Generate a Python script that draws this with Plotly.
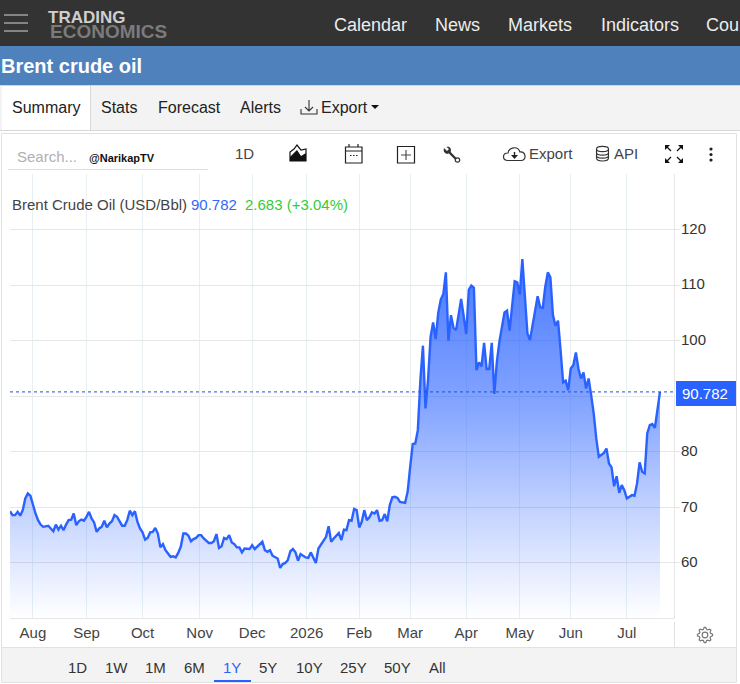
import math
import re

import plotly.graph_objects as go

# Session number and closing price of Brent crude over the past year
sessions = [
    0, 1, 2, 3, 4, 5, 6, 7, 8, 9, 10, 11, 12, 13, 15, 16, 17, 18, 19, 20,
    21, 22, 23, 24, 25, 26, 27, 28, 29, 30, 31, 32, 33, 34, 35, 36, 37, 38, 39, 40,
    41, 42, 43, 44, 45, 46, 47, 48, 49, 50, 51, 52, 53, 54, 55, 56, 57, 58, 59, 60,
    61, 62, 63, 64, 65, 66, 67, 68, 69, 70, 71, 72, 73, 74, 75, 76, 78, 79, 80, 81,
    82, 83, 84, 85, 86, 87, 88, 89, 90, 91, 92, 94, 95, 96, 97, 99, 100, 101, 102, 103,
    105, 106, 107, 108, 109, 110, 111, 112, 113, 114, 116, 117, 118, 120, 121, 123, 124, 125, 126, 127,
    129, 130, 131, 132, 133, 134, 135, 136, 137, 138, 139, 140, 141, 142, 143, 144, 145, 146, 147, 148,
    149, 150, 151, 152, 153, 155, 156, 157, 158, 159, 160, 161, 162, 163, 164, 165, 166, 167, 168, 169,
    170, 171, 172, 173, 174, 175, 177, 179, 180, 181, 182, 183, 184, 185, 186, 187, 188, 189, 190, 191,
    192, 194, 195, 196, 198, 199, 200, 201, 202, 203, 204, 205, 207, 208, 209, 210, 211, 212, 213, 214,
    215, 216, 217, 218, 219, 220, 221, 222, 223, 224, 225, 226, 227, 228, 229, 230, 231, 233, 234, 235,
    236, 237, 238, 239, 240, 241, 242, 244, 245, 246, 247, 248, 249, 250, 251, 252, 253, 255,
]
prices = [
    69.3, 68.6, 68.6, 69.2, 68.5, 69.5, 71.6, 72.5, 72.1, 70.3, 68.9, 67.7, 66.9, 66.5, 66.7, 66.2, 65.7, 66.9, 66.0, 66.7,
    65.9, 66.9, 67.7, 67.8, 68.9, 66.8, 67.5, 67.8, 67.6, 68.3, 69.2, 68.0, 67.3, 65.6, 66.2, 66.5, 67.6, 66.4, 67.1, 67.5,
    68.6, 68.3, 67.5, 66.7, 66.7, 67.7, 69.4, 68.6, 69.3, 67.4, 66.2, 65.5, 64.2, 64.5, 65.5, 65.6, 66.3, 65.3, 62.8, 63.4,
    62.3, 61.7, 61.1, 61.2, 61.0, 61.8, 62.9, 65.3, 65.3, 64.9, 63.9, 64.3, 64.5, 65.0, 65.0, 64.4, 63.6, 63.6, 63.9, 65.2,
    62.7, 63.0, 64.5, 64.3, 65.0, 63.7, 63.4, 62.8, 62.8, 61.9, 62.6, 62.5, 63.2, 62.5, 62.9, 63.8, 62.3, 62.0, 62.3, 61.3,
    60.8, 59.1, 59.8, 60.0, 60.5, 62.1, 62.5, 61.9, 60.4, 61.6, 61.0, 60.9, 61.9, 60.0, 62.6, 63.9, 64.7, 66.6, 63.8, 64.4,
    65.4, 64.1, 66.0, 65.9, 67.7, 67.6, 69.7, 69.5, 66.4, 67.4, 69.5, 67.7, 68.2, 69.1, 68.9, 69.5, 67.6, 67.7, 68.8, 67.5,
    70.4, 71.8, 71.9, 71.7, 71.0, 70.8, 72.8, 77.3, 81.4, 81.5, 83.9, 92.9, 99.1, 87.8, 92.9, 100.7, 103.3, 100.3, 105.0, 107.4,
    108.4, 112.3, 100.0, 104.6, 102.3, 101.9, 107.5, 101.2, 109.2, 109.9, 109.5, 94.7, 96.1, 95.4, 99.6, 94.9, 94.9, 99.6, 90.4, 96.2,
    99.8, 105.1, 105.4, 101.8, 110.7, 110.5, 108.3, 114.7, 108.6, 101.3, 100.1, 103.0, 108.0, 106.0, 105.9, 109.7, 112.3, 111.4, 104.6, 102.7,
    103.6, 98.3, 92.5, 92.8, 91.1, 95.0, 95.6, 97.9, 95.0, 93.2, 94.3, 91.4, 93.2, 90.2, 86.9, 82.4, 79.1, 79.8, 80.6, 77.9,
    77.2, 73.8, 75.6, 72.6, 74.0, 73.1, 71.6, 72.2, 72.1, 74.3, 78.1, 76.4, 76.1, 83.3, 84.8, 85.0, 84.3, 90.782,
]
month_labels = ["Aug", "Sep", "Oct", "Nov", "Dec", "2026", "Feb", "Mar", "Apr", "May", "Jun", "Jul"]
month_sessions = [9, 30, 52, 74.4, 95, 116.4, 137, 157, 179, 200, 220, 242]
price_ticks = [60, 70, 80, 90, 100, 110, 120]
price_labels = ["60", "70", "80", "", "100", "110", "120"]
nav_items = ["Calendar", "News", "Markets", "Indicators", "Cou"]
tab_items = ["Summary", "Stats", "Forecast", "Alerts", "Export"]
range_items = ["1D", "1W", "1M", "6M", "1Y", "5Y", "10Y", "25Y", "50Y", "All"]
last_price = prices[-1]

W, H = 740, 684
FONT = "Liberation Sans"
BLUE = "#2962ff"
INK = "#444444"


def fx(x):
    return x / W


def fy(y):
    return 1 - y / H


shapes = []
notes = []


def box(x0, y0, x1, y1, fill=None, line=None, width=1):
    shapes.append(dict(
        type="rect", xref="paper", yref="paper",
        x0=fx(x0), y0=fy(y0), x1=fx(x1), y1=fy(y1),
        fillcolor=fill or "rgba(0,0,0,0)",
        line=dict(color=line or "rgba(0,0,0,0)", width=width if line else 0),
    ))


def rule(x0, y0, x1, y1, color, width=1):
    shapes.append(dict(
        type="line", xref="paper", yref="paper",
        x0=fx(x0), y0=fy(y0), x1=fx(x1), y1=fy(y1),
        line=dict(color=color, width=width),
    ))


def icon(d, fill=None, line=None, width=1.3):
    # Paths are written in screen pixels and converted to paper fractions here
    nums = iter(re.findall(r"[A-Z]|-?[\d.]+", d))
    out = []
    is_x = True
    for tok in nums:
        if tok.isalpha():
            out.append(tok)
            is_x = True
        else:
            v = float(tok)
            out.append(f"{fx(v) if is_x else fy(v):.5f}")
            is_x = not is_x
    shapes.append(dict(
        type="path", xref="paper", yref="paper", path=" ".join(out),
        fillcolor=fill or "rgba(0,0,0,0)",
        line=dict(color=line or "rgba(0,0,0,0)", width=width if line else 0),
    ))


def circle_path(cx, cy, r):
    k = 0.5523 * r
    return (f"M {cx-r} {cy} C {cx-r} {cy-k} {cx-k} {cy-r} {cx} {cy-r} "
            f"C {cx+k} {cy-r} {cx+r} {cy-k} {cx+r} {cy} "
            f"C {cx+r} {cy+k} {cx+k} {cy+r} {cx} {cy+r} "
            f"C {cx-k} {cy+r} {cx-r} {cy+k} {cx-r} {cy} Z")


def text(x, y, s, size=16, color=INK, anchor="left", bold=False):
    # Left-aligned labels carry about a pixel of side bearing, taken off here
    xpos = x - 1 if anchor == "left" else x
    notes.append(dict(
        xref="paper", yref="paper", x=fx(xpos), y=fy(y), text=f"<b>{s}</b>" if bold else s,
        showarrow=False, xanchor=anchor, yanchor="middle", borderpad=0,
        font=dict(family=FONT, size=size, color=color),
    ))


# Site header
box(0, 0, W, 46, fill="#333333")
for yy in (15, 23, 31):
    rule(4, yy, 28, yy, "#9a9a9a", 1.6)
text(48, 17, "TRADING", 17, "#cfcfcf", bold=True)
text(50, 31.5, "ECONOMICS", 19, "#7b7b7b", bold=True)
for label, xpos in zip(nav_items, (334, 435, 508, 601, 706)):
    text(xpos, 25, label, 18, "#ececec")
box(0, 46, W, 85, fill="#4f81bd")
text(1, 66, "Brent crude oil", 20, "#ffffff", bold=True)

# Tab row
box(0, 85, W, 130, fill="#f3f3f3")
rule(0, 85.5, W, 85.5, "#d5d5d5")
rule(0, 130.5, W, 130.5, "#d8d8d8")
box(2, 86, 90, 130, fill="#ffffff")
rule(90.5, 86, 90.5, 130, "#d8d8d8")
for label, xpos in zip(tab_items, (12, 101, 158, 240, 321)):
    text(xpos, 107, label, 16, "#222222")
icon("M 301 109 L 301 114 L 317 114 L 317 109", line="#333333", width=1.1)
icon("M 309 100 L 309 111 M 305 107 L 309 111 L 313 107", line="#333333", width=1.1)
icon("M 371 105 L 379 105 L 375 109 Z", fill="#111111")

# Chart card
box(1.5, 133.5, 736.5, 682.5, line="#e2e2e2")
text(17, 157, "Search...", 15, "#b0b0b0")
text(89, 158, "@NarikapTV", 11, "#111111", bold=True)
rule(8, 169.5, 208, 169.5, "#dddddd")
text(244, 153, "1D", 15, INK, anchor="center")

# Toolbar icons
icon("M 290 161 L 290 152 L 294 149 L 297 145 L 301 150 L 306 149 L 306 161 Z", line="#111111", width=1.2)
icon("M 290 161 L 290 157 L 294 153 L 297 150 L 301 156 L 306 153 L 306 161 Z", fill="#111111")
icon("M 345.5 147 L 362 147 L 362 163 L 345.5 163 Z", line="#222222", width=1.2)
icon("M 345.5 151 L 362 151 M 349 144 L 349 147 M 358 144 L 358 147", line="#222222", width=1.2)
icon("M 350 155.5 L 351.5 155.5 M 353 155.5 L 354.5 155.5 M 356 155.5 L 357.5 155.5", line="#222222", width=1.2)
icon("M 397.5 146.5 L 414.5 146.5 L 414.5 163 L 397.5 163 Z", line="#222222", width=1.2)
icon("M 406 150 L 406 160 M 401 155 L 411 155", line="#444444", width=1.1)
icon("M 448 151 L 456 159", line="#333333", width=2.4)
icon("M 444 148 L 447 151 L 449 149 L 446.5 147 C 450 146 452 149 450.5 152.5 L 447 154 C 444 153 443 151 444 148 Z", fill="#333333")
icon(circle_path(457.5, 160, 2.2), line="#333333", width=1.2)
icon("M 508 160.5 C 502 160.5 502 153 508 153 C 509 147 518 145.5 520 152 C 526 151.5 527 160.5 521 160.5 Z", line="#333333", width=1.2)
icon("M 514.5 152 L 514.5 157", line="#222222", width=1.4)
icon("M 511 155 L 518 155 L 514.5 159 Z", fill="#222222")
text(529, 154, "Export", 15, INK)
icon("M 596.5 149 C 596.5 145.5 608.5 145.5 608.5 149 C 608.5 152.5 596.5 152.5 596.5 149 Z", line="#333333", width=1.1)
icon("M 596.5 149 L 596.5 158 C 596.5 162 608.5 162 608.5 158 L 608.5 149", line="#333333", width=1.1)
icon("M 596.5 152.5 C 596.5 156 608.5 156 608.5 152.5 M 596.5 155.5 C 596.5 159 608.5 159 608.5 155.5", line="#333333", width=1.1)
text(614, 154, "API", 15, INK)
for cx, cy, sx, sy in ((665, 145, 1, 1), (683, 145, -1, 1), (665, 163, 1, -1), (683, 163, -1, -1)):
    icon(f"M {cx} {cy} L {cx+5*sx} {cy} L {cx} {cy+5*sy} Z", fill="#111111")
    icon(f"M {cx+2*sx} {cy+2*sy} L {cx+6*sx} {cy+6*sy}", line="#111111", width=1.2)
for cy in (149, 154.5, 160):
    icon(circle_path(711, cy, 1.6), fill="#222222")

# Legend line above the plot
text(12, 204.5, "Brent Crude Oil (USD/Bbl)", 15, INK)
text(191, 204.5, f"{last_price:.3f}", 15, "#3366ff")
text(245, 204.5, "2.683 (+3.04%)", 15, "#33cc33")

# Chart footer: right gutter, gear and range selector
rule(1.5, 647.5, 736.5, 647.5, "#e2e2e2")
box(2, 648, 736, 682, fill="#f3f3f3")
rule(674.5, 622, 674.5, 647, "#e2e2e2")
gear = []
for i in range(32):
    ang = 2 * math.pi * i / 32
    rad = 7.6 if i % 4 in (0, 1) else 5.8
    gear.append(f"{'M' if i == 0 else 'L'} {705 + rad * math.cos(ang - 0.1):.2f} {635 + rad * math.sin(ang - 0.1):.2f}")
icon(" ".join(gear) + " Z", line="#777777", width=1.2)
icon(circle_path(705, 635, 2.8), line="#777777", width=1.2)
for label, xpos in zip(range_items, (77, 116, 155, 194, 232, 268, 309, 353, 398, 438)):
    text(xpos, 667.5, label, 15, BLUE if label == "1Y" else "#333333", anchor="center")
rule(214, 681, 251, 681, BLUE, 2)

# Last-price flag on the price axis
box(676, 381, 736, 406, fill=BLUE)
text(682, 393.5, f"{last_price:.3f}", 15, "#ffffff")

base = [50.09] * len(sessions)
fig = go.Figure()
fig.add_trace(go.Scatter(
    x=sessions, y=base, mode="lines", line=dict(width=0, color="rgba(0,0,0,0)"),
    hoverinfo="skip", showlegend=False,
))
fig.add_trace(go.Scatter(
    x=sessions, y=prices, mode="lines", fill="tonexty",
    line=dict(color=BLUE, width=2.4),
    fillgradient=dict(
        type="vertical", start=50.09, stop=114.7,
        colorscale=[
            [0.0, "rgba(41,98,255,0.0)"],
            [0.3, "rgba(41,98,255,0.28)"],
            [0.6, "rgba(41,98,255,0.58)"],
            [1.0, "rgba(41,98,255,0.85)"],
        ],
    ),
    hoverinfo="skip", showlegend=False,
))
fig.add_trace(go.Scatter(
    x=[0, 260.5], y=[last_price, last_price], mode="lines",
    line=dict(color="#1f50e0", width=1, dash="dot"), hoverinfo="skip", showlegend=False,
))

fig.update_layout(
    width=W, height=H, margin=dict(l=0, r=0, t=0, b=0),
    paper_bgcolor="#ffffff", plot_bgcolor="#ffffff",
    shapes=shapes, annotations=notes, showlegend=False,
    font=dict(family=FONT, color=INK),
    xaxis=dict(
        domain=[fx(10), fx(674)], range=[0, 260.5], fixedrange=True,
        tickmode="array", tickvals=month_sessions, ticktext=month_labels,
        showgrid=True, gridcolor="#e8f0f4", gridwidth=1, zeroline=False,
        showline=True, linecolor="#e6e6e6", linewidth=1,
        ticks="outside", ticklen=1, tickcolor="rgba(0,0,0,0)",
        tickfont=dict(family=FONT, size=15, color=INK),
    ),
    yaxis=dict(
        domain=[fy(618), fy(174)], range=[50.09, 130], side="right", fixedrange=True,
        tickmode="array", tickvals=price_ticks, ticktext=price_labels,
        showgrid=True, gridcolor="#e6e6e6", gridwidth=1, zeroline=False,
        showline=True, linecolor="#e6e6e6", linewidth=1,
        ticks="outside", ticklen=5, tickcolor="#e6e6e6",
        ticklabelstandoff=-2, ticklabelshift=-1,
        tickfont=dict(family=FONT, size=15, color="#333333"),
    ),
)

fig.write_html("out.html", config={"displayModeBar": False})
